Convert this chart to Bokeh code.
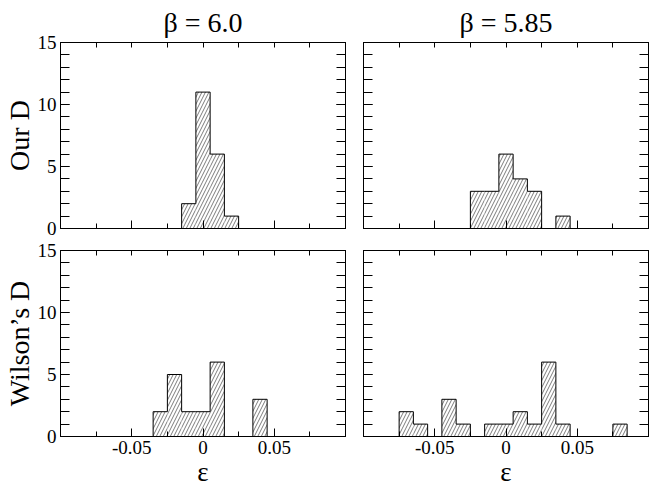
import numpy as np
from bokeh.plotting import figure
from bokeh.layouts import gridplot
from bokeh.models import LinearAxis, FixedTicker, Range1d, CustomJSTickFormatter
from bokeh.embed import file_html
from bokeh.resources import INLINE

# ---- data ----
bin_width = 0.01
tl_centers = [-0.01, 0.0, 0.01, 0.02]
tl_counts = [2, 11, 6, 1]
tr_centers = [-0.02, -0.01, 0.0, 0.01, 0.02, 0.04]
tr_counts = [3, 3, 6, 4, 3, 1]
bl_centers = [-0.03, -0.02, -0.01, 0.0, 0.01, 0.04]
bl_counts = [2, 5, 2, 2, 6, 3]
br_centers = [-0.07, -0.06, -0.04, -0.03, -0.01, 0.0, 0.01, 0.02, 0.03, 0.04, 0.08]
br_counts = [2, 1, 3, 1, 1, 1, 2, 1, 6, 1, 1]

col_titles = ["β = 6.0", "β = 5.85"]
row_labels = ["Our D", "Wilson’s D"]
x_label = "ε"
x_major = [-0.05, 0.0, 0.05]
x_minor = [-0.075, -0.025, 0.025, 0.075]
y_major = [0, 5, 10, 15]
y_minor = list(range(16))
x_lim = (-0.1, 0.1)
y_lim = (0, 15)

FONT = "Liberation Serif"
FW, FH = 285, 186

lab_fmt = CustomJSTickFormatter(code='return tick == 0 ? "0" : tick.toFixed(2);')


def blank():
    return CustomJSTickFormatter(code='return "";')


def step_path(centers, counts):
    cs = np.round(np.array(centers) / bin_width).astype(int)
    full = np.arange(cs.min(), cs.max() + 1)
    cnt = np.zeros(len(full))
    for c, n in zip(cs, counts):
        cnt[c - full[0]] = n
    xs, ys = [], []
    for k, n in zip(full, cnt):
        left = (k - 0.5) * bin_width
        right = (k + 0.5) * bin_width
        if not xs:
            xs.append(left); ys.append(0)
        xs += [left, right]
        ys += [n, n]
    xs.append(xs[-1]); ys.append(0)
    return xs, ys


def make_panel(centers, counts, row, col):
    p = figure(frame_width=FW, frame_height=FH,
               x_range=Range1d(*x_lim), y_range=Range1d(*y_lim),
               output_backend="svg", toolbar_location=None,
               x_axis_location=None, y_axis_location=None,
               title=col_titles[col] if row == 0 else None)
    p.xgrid.grid_line_color = None
    p.ygrid.grid_line_color = None
    p.outline_line_color = "black"
    p.background_fill_color = "white"
    p.border_fill_color = "white"

    left = np.array(centers) - bin_width / 2
    right = np.array(centers) + bin_width / 2
    p.quad(left=left, right=right, bottom=0, top=counts,
           fill_color="white", line_color=None,
           hatch_pattern="/", hatch_scale=7, hatch_weight=0.6,
           hatch_color="#222222")
    xs, ys = step_path(centers, counts)
    p.line(xs, ys, line_color="black", line_width=1)

    xt = FixedTicker(ticks=x_major, minor_ticks=x_minor)
    yt = FixedTicker(ticks=y_major, minor_ticks=y_minor)

    for loc in ["below", "above"]:
        ax = LinearAxis(ticker=xt)
        ax.axis_line_color = "black"
        ax.major_tick_in = 8 if loc == "below" else 5
        ax.major_tick_out = 0
        ax.minor_tick_in = 5
        ax.minor_tick_out = 0
        ax.major_tick_line_color = "black"
        ax.minor_tick_line_color = "black"
        if loc == "below" and row == 1:
            ax.formatter = lab_fmt
            ax.major_label_text_font = FONT
            ax.major_label_text_font_size = "19px"
            ax.major_label_text_color = "black"
            ax.major_label_standoff = 4
            ax.axis_label = x_label
            ax.axis_label_text_font = FONT
            ax.axis_label_text_font_size = "27px"
            ax.axis_label_text_font_style = "normal"
            ax.axis_label_text_color = "black"
            ax.axis_label_standoff = 0
        else:
            ax.formatter = blank()
            ax.major_label_standoff = 0
            ax.major_label_text_font_size = "1px"
        p.add_layout(ax, loc)

    for loc in ["left", "right"]:
        ax = LinearAxis(ticker=yt)
        ax.axis_line_color = "black"
        ax.major_tick_in = 9
        ax.major_tick_out = 0
        ax.minor_tick_in = 9
        ax.minor_tick_out = 0
        ax.major_tick_line_color = "black"
        ax.minor_tick_line_color = "black"
        if loc == "left" and col == 0:
            ax.major_label_text_font = FONT
            ax.major_label_text_font_size = "19px"
            ax.major_label_text_color = "black"
            ax.major_label_standoff = 4
            ax.axis_label = row_labels[row]
            ax.axis_label_text_font = FONT
            ax.axis_label_text_font_size = "28px"
            ax.axis_label_text_font_style = "normal"
            ax.axis_label_text_color = "black"
            ax.axis_label_standoff = 0
        else:
            ax.formatter = blank()
            ax.major_label_standoff = 0
            ax.major_label_text_font_size = "1px"
        p.add_layout(ax, loc)

    if row == 0:
        p.title.align = "center"
        p.title.text_font = FONT
        p.title.text_font_size = "28px"
        p.title.text_font_style = "normal"
        p.title.text_color = "black"
        p.title.standoff = 9

    p.min_border_top = 0 if row == 0 else 11
    p.min_border_bottom = 11 if row == 0 else 0
    p.min_border_left = 0 if col == 0 else 9
    p.min_border_right = 9 if col == 0 else 1
    return p


tl = make_panel(tl_centers, tl_counts, 0, 0)
tr = make_panel(tr_centers, tr_counts, 0, 1)
bl = make_panel(bl_centers, bl_counts, 1, 0)
br = make_panel(br_centers, br_counts, 1, 1)

grid = gridplot([[tl, tr], [bl, br]], toolbar_location=None)

open("out.html", "w").write(file_html(grid, INLINE))
